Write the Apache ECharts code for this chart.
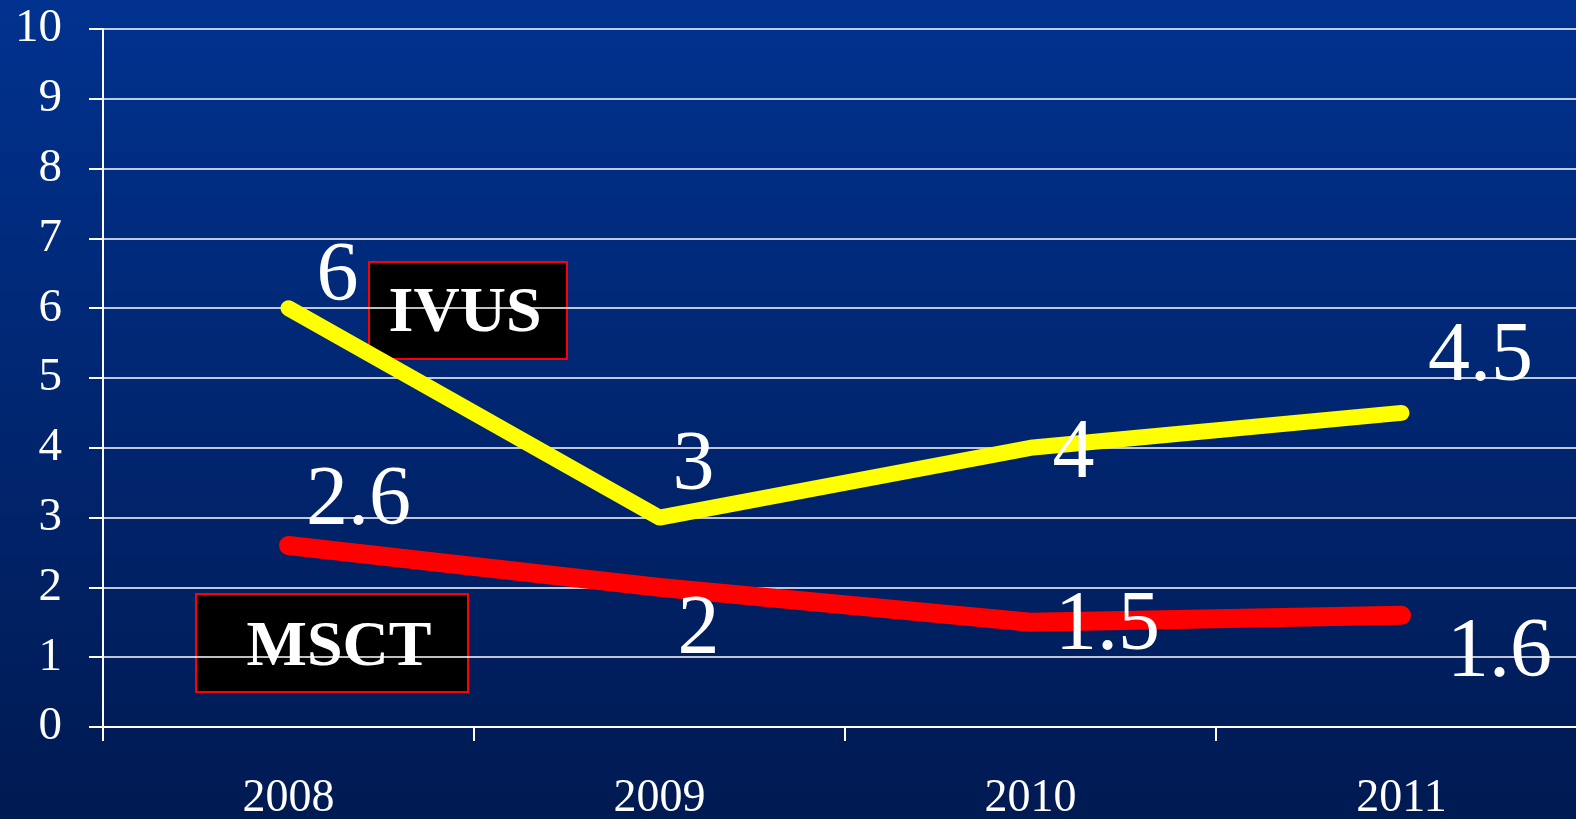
<!DOCTYPE html>
<html>
<head>
<meta charset="utf-8">
<script src="https://cdn.jsdelivr.net/npm/echarts@6/dist/echarts.min.js"></script>
<style>
  html, body { margin: 0; padding: 0; }
  #chart { width: 1576px; height: 819px; }
</style>
</head>
<body>
<div id="chart"></div>
<script>
const years = ['2008', '2009', '2010', '2011'];
const ivus = [6, 3, 4, 4.5];
const msct = [2.6, 2, 1.5, 1.6];

// where each value label sits relative to its point (as placed on the slide)
const ivusOffsets = [[49, -30], [34, -51], [43, 7], [79, -55]];
const msctOffsets = [[70, -44], [39, 44], [77, 5], [98, 39]];

const serif = '"Liberation Serif", "Times New Roman", serif';

const withLabels = (values, offsets) => values.map((v, i) => ({
  value: v,
  label: { offset: offsets[i] }
}));

const lineSeries = (name, color, width, values, offsets) => ({
  name,
  type: 'line',
  data: withLabels(values, offsets),
  symbol: 'circle',
  symbolSize: 1,
  itemStyle: { color },
  lineStyle: { color, width, cap: 'round', join: 'round' },
  label: {
    show: true,
    position: 'inside',
    align: 'center',
    verticalAlign: 'middle',
    color: '#fff',
    fontFamily: serif,
    fontSize: 84
  },
  emphasis: { disabled: true },
  z: 3
});

const myChart = echarts.init(document.getElementById('chart'));

myChart.setOption({
  animation: false,
  backgroundColor: new echarts.graphic.LinearGradient(0, 0, 0, 1, [
    { offset: 0, color: '#00328f' },
    { offset: 1, color: '#001a52' }
  ]),
  // the plot runs past the right edge of the slide
  grid: { left: 103, top: 29, bottom: 92, right: -11, outerBoundsMode: 'none' },
  xAxis: {
    type: 'category',
    data: years,
    boundaryGap: true,
    axisLine: { lineStyle: { color: '#fff', width: 2 } },
    axisTick: { show: true, length: 14, lineStyle: { color: '#fff', width: 2 } },
    axisLabel: { color: '#fff', fontFamily: serif, fontSize: 46, margin: 49 },
    splitLine: { show: false }
  },
  yAxis: {
    type: 'value',
    min: 0,
    max: 10,
    interval: 1,
    axisLine: { show: true, lineStyle: { color: '#fff', width: 2 } },
    axisTick: { show: true, length: 14, lineStyle: { color: '#fff', width: 2 } },
    axisLabel: { color: '#fff', fontFamily: serif, fontSize: 47, margin: 41, padding: [12, 0, 0, 0] },
    splitLine: { lineStyle: { color: '#fff', width: 1.5 } }
  },
  series: [
    lineSeries('IVUS', '#ffff00', 16, ivus, ivusOffsets),
    lineSeries('MSCT', '#ff0000', 19, msct, msctOffsets)
  ],
  graphic: [
    {
      type: 'group',
      z: 100,
      children: [
        {
          type: 'rect',
          shape: { x: 369, y: 262, width: 198, height: 97 },
          style: { fill: '#000', stroke: '#ff0000', lineWidth: 2 }
        },
        {
          type: 'text',
          x: 465, y: 314,
          style: {
            text: 'IVUS', fill: '#fff', font: 'bold 64px ' + serif,
            align: 'center', verticalAlign: 'middle'
          }
        },
        {
          type: 'rect',
          shape: { x: 196, y: 594, width: 272, height: 98 },
          style: { fill: '#000', stroke: '#ff0000', lineWidth: 2 }
        },
        {
          type: 'text',
          x: 339, y: 648,
          style: {
            text: 'MSCT', fill: '#fff', font: 'bold 64px ' + serif,
            align: 'center', verticalAlign: 'middle'
          }
        }
      ]
    }
  ]
});
</script>
</body>
</html>
